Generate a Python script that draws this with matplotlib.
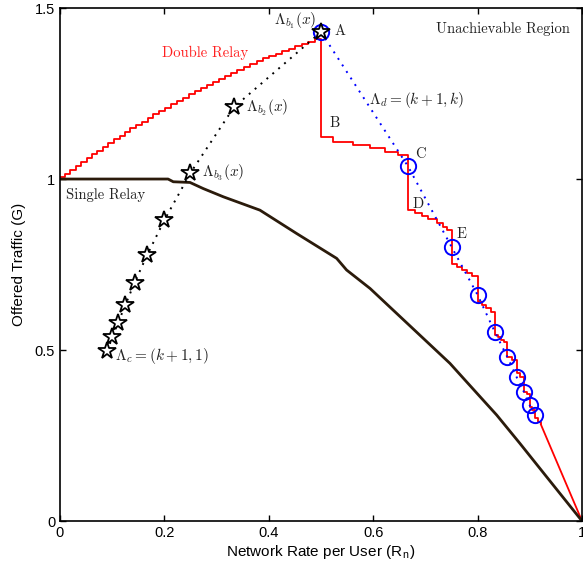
import numpy as np
import matplotlib.pyplot as plt

plt.rcParams['mathtext.fontset'] = 'cm'
plt.rcParams['font.family'] = ['Liberation Sans', 'DejaVu Sans']

# Double relay boundary, rising staircase (step edges and levels)
rise_x = [0.000, 0.010, 0.020, 0.030, 0.040, 0.051, 0.061, 0.071, 0.082, 0.092,
          0.103, 0.114, 0.124, 0.135, 0.146, 0.157, 0.168, 0.179, 0.190, 0.201,
          0.212, 0.224, 0.235, 0.247, 0.258, 0.270, 0.281, 0.293, 0.305, 0.316,
          0.328, 0.340, 0.352, 0.364, 0.377, 0.389, 0.401, 0.413, 0.426, 0.438,
          0.451, 0.463, 0.476, 0.489]
rise_y = [1.005, 1.014, 1.025, 1.037, 1.049, 1.061, 1.072, 1.083, 1.094, 1.105,
          1.116, 1.127, 1.138, 1.148, 1.158, 1.168, 1.179, 1.189, 1.199, 1.209,
          1.219, 1.228, 1.238, 1.248, 1.257, 1.266, 1.275, 1.284, 1.293, 1.301,
          1.310, 1.319, 1.327, 1.336, 1.345, 1.353, 1.360, 1.367, 1.374, 1.381,
          1.388, 1.395, 1.402, 1.410]

# Double relay boundary, falling staircase through B, C, D, E
fall_x = [0.5, 0.5236, 0.5619, 0.5939, 0.6226, 0.648,
          0.6667, 0.680, 0.693, 0.7056, 0.7216, 0.734, 0.742,
          0.75, 0.760, 0.770, 0.779, 0.789,
          0.8, 0.809, 0.817, 0.825,
          0.8333, 0.839, 0.845, 0.851,
          0.8571, 0.866, 0.875, 0.882, 0.8889, 0.894,
          0.9, 0.905, 0.9091, 0.915, 0.921]
fall_y = [1.122, 1.109, 1.099, 1.090, 1.080, 1.070,
          0.909, 0.902, 0.892, 0.882, 0.872, 0.861, 0.851,
          0.753, 0.744, 0.735, 0.726, 0.717,
          0.641, 0.632, 0.622, 0.612,
          0.544, 0.537, 0.530, 0.524,
          0.480, 0.471, 0.432, 0.420, 0.378, 0.370,
          0.334, 0.325, 0.300, 0.290, 0.283]

# last stretch of the double relay boundary
tail_x = [0.921, 1.0]
tail_y = [0.283, 0.0]

# single relay boundary
sr_x = [0.0, 0.207, 0.217, 0.249, 0.2746, 0.313, 0.383, 0.453, 0.530, 0.549,
        0.594, 0.645, 0.696, 0.747, 0.773, 0.805, 0.8365, 0.881, 0.932, 1.0]
sr_y = [1.0, 1.0, 0.992, 0.990, 0.972, 0.948, 0.909, 0.841, 0.768, 0.734,
        0.680, 0.607, 0.534, 0.461, 0.417, 0.363, 0.310, 0.227, 0.1296, 0.0]

# Lambda_b / Lambda_c points (stars), k = 1..10
star_x = [0.5, 0.3333, 0.25, 0.2, 0.1667, 0.1429, 0.125, 0.1111, 0.1, 0.0909]
star_y = [1.43, 1.21, 1.018, 0.880, 0.777, 0.697, 0.631, 0.579, 0.538, 0.497]

# Lambda_d points (circles), k = 1..10
circ_x = [0.5, 0.6667, 0.75, 0.8, 0.8333, 0.8571, 0.875, 0.8889, 0.9, 0.9091]
circ_y = [1.43, 1.037, 0.802, 0.661, 0.552, 0.479, 0.420, 0.377, 0.338, 0.310]

fig = plt.figure(figsize=(5.83, 5.74), dpi=100)
ax = fig.add_axes([0.1029, 0.0923, 0.8954, 0.8937])

red_x = np.concatenate([rise_x, fall_x])
red_y = np.concatenate([rise_y, fall_y])
ax.plot(red_x, red_y, color='#ff0000', lw=1.3, drawstyle='steps-post')
ax.plot(tail_x, tail_y, color='#ff0000', lw=1.3)
ax.plot(sr_x, sr_y, color='#2b1b0b', lw=2.0)

ax.plot(circ_x, circ_y, color='#0000ff', lw=1.4, linestyle=(0, (1, 3)))
ax.plot(circ_x, circ_y, 'o', ms=11, mfc='none', mec='#0000ff', mew=1.4)
ax.plot(star_x, star_y, color='black', lw=1.4, linestyle=(0, (1, 3)))
ax.plot(star_x, star_y, '*', ms=13, mfc='white', mec='black', mew=1.3)

ax.set_xlim(0, 1)
ax.set_ylim(0, 1.5)
ax.set_xticks([0, 0.2, 0.4, 0.6, 0.8, 1])
ax.set_xticklabels(['0', '0.2', '0.4', '0.6', '0.8', '1'])
ax.set_yticks([0, 0.5, 1, 1.5])
ax.set_yticklabels(['0', '0.5', '1', '1.5'])
ax.tick_params(direction='in', top=True, right=True, length=4, width=1,
               labelsize=10.5)
for s in ax.spines.values():
    s.set_linewidth(1.2)

ax.set_xlabel('Network Rate per User (R$_{\\mathregular{n}}$)', fontsize=11, labelpad=2)
ax.set_ylabel('Offered Traffic (G)', fontsize=11, labelpad=6)

tc = '#222222'
cm = dict(family='cmr10', fontsize=10.5, color=tc)
ax.text(0.278, 1.368, 'Double Relay', ha='center', va='center',
        family='cmr10', fontsize=10.5, color='#ff2020')
ax.text(0.012, 0.953, 'Single Relay', ha='left', va='center', **cm)
ax.text(0.977, 1.439, 'Unachievable Region', ha='right', va='center', **cm)
ax.text(0.536, 1.432, 'A', ha='center', va='center', **cm)
ax.text(0.527, 1.163, 'B', ha='center', va='center', **cm)
ax.text(0.690, 1.072, 'C', ha='center', va='center', **cm)
ax.text(0.686, 0.926, 'D', ha='center', va='center', **cm)
ax.text(0.770, 0.838, 'E', ha='center', va='center', **cm)

mt = dict(fontsize=11, color=tc)
ax.text(0.492, 1.462, r'$\Lambda_{b_1}(x)$', ha='right', va='center', **mt)
ax.text(0.356, 1.208, r'$\Lambda_{b_2}(x)$', ha='left', va='center', **mt)
ax.text(0.272, 1.018, r'$\Lambda_{b_3}(x)$', ha='left', va='center', **mt)
ax.text(0.105, 0.483, r'$\Lambda_c = (k+1,1)$', ha='left', va='center', **mt)
ax.text(0.592, 1.231, r'$\Lambda_d = (k+1,k)$', ha='left', va='center', **mt)

fig.savefig('out.png', dpi=100)
